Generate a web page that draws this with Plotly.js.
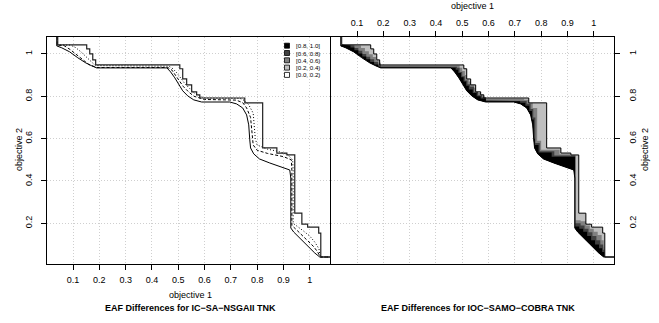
<!DOCTYPE html>
<html><head><meta charset="utf-8">
<script src="https://cdn.plot.ly/plotly-3.0.1.min.js"></script>
<style>body{margin:0;padding:0;background:#fff}#plot{width:659px;height:323px}</style>
</head><body><div id="plot"></div>
<script>
// ---- data (objective 1 = x, objective 2 = y) ----
// grand best attainment surface (smooth lower curve)
const bestX = [0.038, 0.038, 0.057, 0.087, 0.118, 0.148, 0.171, 0.190, 0.457, 0.471, 0.487, 0.502, 0.517, 0.536, 0.559, 0.589, 0.696, 0.722, 0.745, 0.760, 0.768, 0.772, 0.775, 0.787, 0.809, 0.848, 0.897, 0.924, 0.928, 0.928, 0.939, 0.962, 0.992, 1.019, 1.038, 1.2];
const bestY = [1.2, 1.038, 1.029, 1.010, 0.982, 0.958, 0.944, 0.934, 0.934, 0.915, 0.887, 0.854, 0.826, 0.802, 0.783, 0.773, 0.773, 0.764, 0.745, 0.712, 0.665, 0.594, 0.556, 0.528, 0.504, 0.485, 0.466, 0.452, 0.414, 0.178, 0.159, 0.130, 0.093, 0.060, 0.041, 0.041];
// grand worst attainment surface (staircase corners)
const worstX = [0.0418, 0.0418, 0.152, 0.1635, 0.175, 0.186, 0.506, 0.517, 0.532, 0.551, 0.570, 0.582, 0.753, 0.821, 0.875, 0.913, 0.943, 0.970, 0.992, 1.034, 1.042, 1.2];
const worstY = [1.2, 1.043, 1.024, 1.000, 0.972, 0.948, 0.930, 0.882, 0.854, 0.821, 0.807, 0.792, 0.769, 0.556, 0.532, 0.523, 0.248, 0.196, 0.182, 0.154, 0.041, 0.041];
// median attainment surfaces shown in the left panel
const medDashX = [0.040, 0.040, 0.065, 0.09, 0.12, 0.14, 0.16, 0.19, 0.46, 0.475, 0.49, 0.505, 0.52, 0.54, 0.56, 0.6, 0.72, 0.745, 0.76, 0.775, 0.782, 0.785, 0.8, 0.84, 0.9, 0.93, 0.932, 0.932, 0.945, 0.965, 0.99, 1.015, 1.03, 1.04, 1.2];
const medDashY = [1.2, 1.041, 1.04, 1.02, 0.99, 0.968, 0.95, 0.936, 0.936, 0.925, 0.9, 0.87, 0.845, 0.82, 0.8, 0.785, 0.782, 0.77, 0.745, 0.7, 0.62, 0.57, 0.545, 0.53, 0.515, 0.5, 0.45, 0.19, 0.175, 0.15, 0.12, 0.09, 0.065, 0.041, 0.041];
const medDotX = [0.041, 0.041, 0.09, 0.11, 0.13, 0.15, 0.17, 0.185, 0.465, 0.48, 0.495, 0.51, 0.525, 0.545, 0.565, 0.6, 0.735, 0.752, 0.768, 0.785, 0.793, 0.8, 0.84, 0.88, 0.915, 0.935, 0.937, 0.937, 0.955, 0.975, 1.0, 1.02, 1.035, 1.04, 1.2];
const medDotY = [1.2, 1.042, 1.042, 1.03, 1.01, 0.985, 0.96, 0.945, 0.942, 0.93, 0.91, 0.885, 0.86, 0.835, 0.81, 0.792, 0.79, 0.78, 0.76, 0.72, 0.6, 0.57, 0.55, 0.54, 0.525, 0.5, 0.45, 0.2, 0.185, 0.165, 0.14, 0.11, 0.08, 0.041, 0.041];
// right panel: outer boundaries (staircase corners) of the difference levels
const lev40X = [0.042, 0.1, 0.115, 0.13, 0.145, 0.16, 0.172, 0.182, 0.19, 0.48, 0.49, 0.50, 0.51, 0.517, 0.525, 0.532, 0.545, 0.551, 0.56, 0.57, 0.582, 0.735, 0.753, 0.768, 0.785, 0.80, 0.87, 0.91, 0.931, 0.95, 0.97, 0.985, 1.0, 1.015, 1.03, 1.038, 1.04];
const lev40Y = [1.043, 1.04, 1.028, 1.013, 0.998, 0.985, 0.97, 0.958, 0.945, 0.945, 0.935, 0.92, 0.9, 0.88, 0.87, 0.852, 0.84, 0.82, 0.815, 0.805, 0.788, 0.784, 0.768, 0.745, 0.59, 0.548, 0.526, 0.52, 0.215, 0.21, 0.19, 0.175, 0.16, 0.145, 0.12, 0.09, 0.041];
const lev60X = [0.042, 0.075, 0.09, 0.105, 0.12, 0.135, 0.15, 0.165, 0.18, 0.19, 0.47, 0.48, 0.49, 0.50, 0.51, 0.52, 0.53, 0.545, 0.56, 0.575, 0.59, 0.725, 0.745, 0.76, 0.77, 0.778, 0.795, 0.85, 0.93, 0.95, 0.965, 0.98, 0.995, 1.01, 1.025, 1.036, 1.04];
const lev60Y = [1.043, 1.04, 1.028, 1.015, 1.0, 0.987, 0.975, 0.962, 0.95, 0.941, 0.94, 0.935, 0.915, 0.895, 0.875, 0.857, 0.845, 0.82, 0.805, 0.795, 0.781, 0.778, 0.765, 0.74, 0.7, 0.58, 0.54, 0.52, 0.2, 0.19, 0.175, 0.158, 0.14, 0.12, 0.1, 0.075, 0.041];
const lev80X = [0.042, 0.06, 0.075, 0.09, 0.105, 0.12, 0.135, 0.15, 0.165, 0.18, 0.19, 0.465, 0.475, 0.485, 0.495, 0.505, 0.515, 0.525, 0.54, 0.555, 0.57, 0.59, 0.72, 0.74, 0.755, 0.765, 0.772, 0.776, 0.79, 0.84, 0.929, 0.945, 0.96, 0.975, 0.99, 1.005, 1.02, 1.032, 1.04];
const lev80Y = [1.043, 1.04, 1.03, 1.017, 1.002, 0.988, 0.975, 0.962, 0.95, 0.94, 0.936, 0.935, 0.925, 0.91, 0.89, 0.87, 0.85, 0.832, 0.815, 0.8, 0.79, 0.776, 0.77, 0.755, 0.73, 0.69, 0.6, 0.57, 0.535, 0.515, 0.185, 0.175, 0.16, 0.14, 0.12, 0.1, 0.082, 0.065, 0.041];
// axis ticks and legend
const xTicks = [0.1, 0.2, 0.3, 0.4, 0.5, 0.6, 0.7, 0.8, 0.9, 1];
const xTickText = ['0.1','0.2','0.3','0.4','0.5','0.6','0.7','0.8','0.9','1'];
const yTicks = [0.2, 0.4, 0.6, 0.8, 1];
const yTickText = ['0.2','0.4','0.6','0.8','1'];
const legendLabels = ['[0.8, 1.0]', '[0.6, 0.8)', '[0.4, 0.6)', '[0.2, 0.4)', '[0.0, 0.2)'];
const legendColors = ['#000000', '#404040', '#808080', '#BFBFBF', '#FFFFFF'];

// ---- helpers ----
function stepExpand(xs, ys) {
  const ox = [], oy = [];
  for (let i = 0; i < xs.length; i++) {
    if (i > 0) { ox.push(xs[i]); oy.push(ys[i - 1]); }
    ox.push(xs[i]); oy.push(ys[i]);
  }
  return [ox, oy];
}
const bCoreX = bestX.slice(1, -1), bCoreY = bestY.slice(1, -1);
function bandPolygon(lx, ly) {
  const [ex, ey] = stepExpand(lx, ly);
  return [bCoreX.concat(ex.slice().reverse()), bCoreY.concat(ey.slice().reverse())];
}
const [wx, wy] = stepExpand(worstX, worstY);

const traces = [];
const levels = [
  [worstX.slice(1, -1), worstY.slice(1, -1), legendColors[3]],
  [lev40X, lev40Y, legendColors[2]],
  [lev60X, lev60Y, legendColors[1]],
  [lev80X, lev80Y, legendColors[0]]
];
levels.forEach(([lx, ly, c]) => {
  const [px, py] = bandPolygon(lx, ly);
  traces.push({x: px, y: py, xaxis: 'x2', yaxis: 'y2', mode: 'lines', fill: 'toself',
    fillcolor: c, line: {width: 0, color: c}, hoverinfo: 'skip', showlegend: false});
});
traces.push({x: bestX, y: bestY, xaxis: 'x2', yaxis: 'y2', mode: 'lines', line: {color: '#000', width: 1}, showlegend: false});
traces.push({x: wx, y: wy, xaxis: 'x2', yaxis: 'y2', mode: 'lines', line: {color: '#000', width: 1}, showlegend: false});
traces.push({x: medDashX, y: medDashY, xaxis: 'x', yaxis: 'y', mode: 'lines', line: {color: '#000', width: 1, dash: '3px,2px'}, showlegend: false});
traces.push({x: medDotX, y: medDotY, xaxis: 'x', yaxis: 'y', mode: 'lines', line: {color: '#000', width: 1, dash: '1px,2px'}, showlegend: false});
traces.push({x: bestX, y: bestY, xaxis: 'x', yaxis: 'y', mode: 'lines', line: {color: '#000', width: 1}, showlegend: false});
traces.push({x: wx, y: wy, xaxis: 'x', yaxis: 'y', mode: 'lines', line: {color: '#222', width: 1.2}, showlegend: false});

const W = 659, H = 323;
const px = v => v / W, py = v => (H - v) / H;
const FAM = 'Liberation Sans, Arial, sans-serif';
const tickFont = {family: FAM, size: 9, color: '#000'};
const common = {
  showline: true, mirror: true, linecolor: '#000', linewidth: 1,
  ticks: 'outside', ticklen: 5, tickcolor: '#000', tickwidth: 1,
  showgrid: true, gridcolor: '#cfcfcf', griddash: '1px,2px', gridwidth: 1,
  zeroline: false, tickfont: tickFont, fixedrange: true
};
const xRange = [0.001, 1.077], yRange = [0.008, 1.08];
const xDomL = [px(47), px(330)], xDomR = [px(331), px(614)];
const yDom = [(H - 264) / H, (H - 37) / H];

const shapes = [], annotations = [];
legendLabels.forEach((lab, i) => {
  const cy = 45.7 + i * 7.3;
  shapes.push({type: 'rect', xref: 'paper', yref: 'paper', x0: px(284.5), x1: px(289.5),
    y0: py(cy + 2.5), y1: py(cy - 2.5), fillcolor: legendColors[i], line: {color: '#000', width: 0.8}});
  annotations.push({xref: 'paper', yref: 'paper', x: px(294), y: py(cy), xanchor: 'left', yanchor: 'middle',
    text: lab, showarrow: false, font: {family: FAM, size: 6.2, color: '#000000'}});
});
const lblFont = {family: FAM, size: 9, color: '#000'};
const ttlFont = {family: FAM, size: 9, color: '#000', weight: 'bold'};
annotations.push({xref: 'paper', yref: 'paper', x: px(190), y: py(295), text: 'objective 1', showarrow: false, font: lblFont, xanchor: 'center', yanchor: 'middle'});
annotations.push({xref: 'paper', yref: 'paper', x: px(472.5), y: py(6), text: 'objective 1', showarrow: false, font: lblFont, xanchor: 'center', yanchor: 'middle'});
annotations.push({xref: 'paper', yref: 'paper', x: px(19), y: py(150), text: 'objective 2', textangle: -90, showarrow: false, font: lblFont, xanchor: 'center', yanchor: 'middle'});
annotations.push({xref: 'paper', yref: 'paper', x: px(645), y: py(150), text: 'objective 2', textangle: -90, showarrow: false, font: lblFont, xanchor: 'center', yanchor: 'middle'});
annotations.push({xref: 'paper', yref: 'paper', x: px(190), y: py(307.5), text: '<b>EAF Differences for IC−SA−NSGAII TNK</b>', showarrow: false, font: ttlFont, xanchor: 'center', yanchor: 'middle'});
annotations.push({xref: 'paper', yref: 'paper', x: px(478), y: py(307.5), text: '<b>EAF Differences for IOC−SAMO−COBRA TNK</b>', showarrow: false, font: ttlFont, xanchor: 'center', yanchor: 'middle'});

const layout = {
  width: W, height: H, margin: {l: 0, r: 0, t: 0, b: 0},
  paper_bgcolor: '#fff', plot_bgcolor: '#fff', showlegend: false,
  xaxis: Object.assign({}, common, {domain: xDomL, range: xRange, anchor: 'y', side: 'bottom', tickvals: xTicks, ticktext: xTickText, ticklabelstandoff: 2}),
  yaxis: Object.assign({}, common, {domain: yDom, range: yRange, anchor: 'x', side: 'left', tickvals: yTicks, ticktext: yTickText, tickangle: -90, ticklabelstandoff: 5}),
  xaxis2: Object.assign({}, common, {domain: xDomR, range: xRange, anchor: 'y2', side: 'top', tickvals: xTicks, ticktext: xTickText, ticklabelstandoff: 1}),
  yaxis2: Object.assign({}, common, {domain: yDom, range: yRange, anchor: 'x2', side: 'right', tickvals: yTicks, ticktext: yTickText, tickangle: -90, ticklabelstandoff: 5}),
  shapes: shapes, annotations: annotations
};
Plotly.newPlot('plot', traces, layout, {displayModeBar: false, staticPlot: true});
</script></body></html>
